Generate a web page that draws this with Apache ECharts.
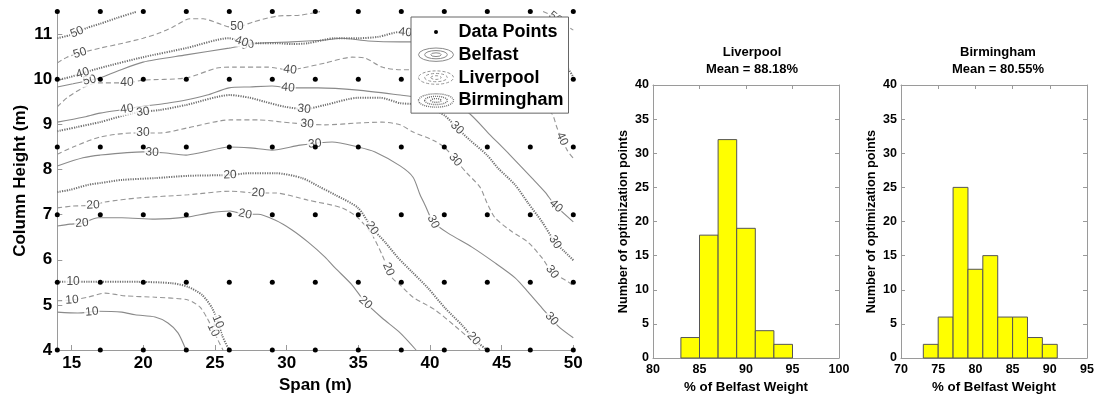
<!DOCTYPE html>
<html>
<head>
<meta charset="utf-8">
<script src="https://cdn.jsdelivr.net/npm/echarts@6/dist/echarts.min.js"></script>
<style>
html, body { margin: 0; padding: 0; background: #fff; }
#chart { width: 1094px; height: 400px; }
</style>
</head>
<body>
<div id="chart"></div>
<script>
// ---- Optimisation sampling grid (span m, column height m) ----
const spanValues = [14, 17, 20, 23, 26, 29, 32, 35, 38, 41, 44, 47, 50];
const heightValues = [4, 5.5, 7, 8.5, 10, 11.5];

const spanTicks = [15, 20, 25, 30, 35, 40, 45, 50];
const heightTicks = [4, 5, 6, 7, 8, 9, 10, 11];

// ---- Contour lines of % weight, as [span, column height] ----
const belfast10 = [[14,4.84],[15.44,4.82],[16.84,4.86],[18.51,4.84],[19.42,4.78],[20.82,4.73],[21.72,4.60],[22.42,4.38],[22.98,4.0]];
const belfast20 = [[14,6.75],[14.89,6.79],[15.72,6.81],[16.84,6.93],[18.51,6.93],[20.82,6.90],[23.12,6.95],[24.65,7.04],[26.05,7.08],[27.10,7.01],[28.01,7.01],[29.19,6.88],[30.38,6.66],[31.50,6.39],[32.68,6.06],[33.38,5.82],[34.57,5.44],[35.47,5.06],[36.66,4.71],[37.92,4.38],[39.03,4.0]];
const belfast30 = [[14,8.08],[15.79,8.26],[16.98,8.32],[19.98,8.39],[21.37,8.37],[22.98,8.32],[23.96,8.37],[25.98,8.50],[27.44,8.48],[28.98,8.43],[30.94,8.54],[33.17,8.61],[34.98,8.50],[36.17,8.39],[37.92,8.08],[38.82,7.83],[39.31,7.44],[39.66,7.21],[40.22,6.84],[41.26,6.59],[42.93,6.28],[44.54,5.93],[45.94,5.60],[46.84,5.29],[47.82,4.93],[48.94,4.53],[50,4.27]];
const belfast40 = [[14,9.05],[15.79,9.16],[16.98,9.25],[18.86,9.34],[19.77,9.39],[21.65,9.47],[22.98,9.54],[24.45,9.65],[25.98,9.81],[27.44,9.83],[28.98,9.85],[30.24,9.81],[32.19,9.81],[34.98,9.76],[37.92,9.65],[39.31,9.59],[41.40,9.45],[42.65,9.27],[44.19,8.77],[45.59,8.32],[47.12,7.81],[48.03,7.50],[48.73,7.21],[50,6.84]];
const belfast50 = [[14,9.83],[15.10,9.90],[16.98,10.03],[18.17,10.18],[19.98,10.38],[22.98,10.54],[25.98,10.69],[28.01,10.80],[30.38,10.83],[32.68,10.87],[33.87,10.91],[35.68,10.85],[37.92,10.83],[38.75,10.83],[43.49,10.83],[47.68,10.80]];

const liverpool10 = [[14,5.09],[15.03,5.11],[16.14,5.17],[17.33,5.26],[18.72,5.20],[20.82,5.17],[23.12,5.11],[23.96,4.95],[24.45,4.71],[24.80,4.49],[25.21,4.22],[25.56,4.0]];
const liverpool20 = [[14,7.15],[15.10,7.19],[16.49,7.21],[17.33,7.28],[19.63,7.37],[23.12,7.44],[26.05,7.52],[28.01,7.48],[29.19,7.48],[31.50,7.32],[33.87,7.15],[34.98,6.93],[35.96,6.55],[36.66,6.11],[37.36,5.60],[37.92,5.44],[38.82,5.17],[40.35,4.89],[41.75,4.53],[43.0,4.18],[43.49,4.0]];
const liverpool30 = [[14,8.34],[15.10,8.50],[16.98,8.72],[19.28,8.81],[21.17,8.81],[23.05,8.92],[26.05,9.10],[28.01,9.10],[30.38,9.03],[32.68,8.99],[34.98,9.03],[36.66,9.05],[37.92,8.99],[38.82,8.83],[40.22,8.65],[41.05,8.48],[41.89,8.17],[42.58,7.92],[43.49,7.61],[43.98,7.26],[44.54,6.93],[45.73,6.62],[46.84,6.39],[47.82,6.04],[48.52,5.73],[49.64,5.51],[50,5.42]];
const liverpool40 = [[14,9.39],[14.68,9.59],[15.79,9.81],[16.77,9.92],[18.86,9.92],[19.98,9.98],[22.98,10.03],[25.14,10.25],[26.26,10.27],[28.63,10.27],[30.24,10.21],[31.08,10.25],[32.68,10.36],[34.57,10.49],[35.47,10.47],[36.66,10.27],[37.92,10.21],[38.75,10.21],[43.49,9.87],[47.68,9.43],[48.52,9.23],[48.87,8.92],[49.57,8.43],[50,8.25]];
const liverpool50 = [[14,10.36],[14.68,10.49],[15.58,10.58],[16.98,10.69],[18.58,10.80],[19.98,10.91],[21.17,11.03],[22.07,11.16],[23.26,11.34],[24.17,11.34],[25.14,11.25],[26.05,11.16],[26.54,11.16],[27.65,11.27],[29.33,11.40],[30.94,11.42],[32.33,11.5]];
const liverpool50East = [[47.89,11.5],[48.59,11.40],[49.29,11.23],[50,11.09]];

const birmingham10 = [[14,5.51],[16.14,5.51],[19.63,5.51],[22.0,5.48],[23.12,5.40],[24.10,5.22],[24.80,4.93],[25.21,4.62],[25.49,4.33],[25.98,4.0]];
const birmingham20 = [[14,7.50],[14.89,7.55],[16.14,7.66],[16.98,7.70],[18.51,7.77],[20.82,7.81],[23.12,7.86],[26.05,7.88],[27.44,7.92],[29.19,7.92],[31.08,7.81],[32.33,7.61],[33.38,7.44],[34.98,7.15],[35.96,6.70],[36.87,6.39],[37.78,6.04],[38.75,5.73],[39.87,5.37],[41.05,4.93],[42.24,4.55],[43.14,4.22],[43.98,4.0]];
const birmingham30 = [[14,8.85],[15.37,8.94],[16.98,9.05],[19.28,9.25],[21.17,9.32],[22.98,9.43],[26.05,9.65],[27.44,9.59],[28.49,9.50],[29.89,9.39],[31.22,9.34],[32.68,9.43],[34.98,9.59],[36.52,9.59],[37.92,9.47],[38.82,9.45],[40.01,9.36],[41.05,9.19],[41.89,8.92],[42.79,8.65],[43.98,8.32],[44.75,8.03],[45.94,7.66],[46.84,7.26],[47.82,6.84],[48.73,6.39],[49.43,6.17],[50,5.99]];
const birmingham40 = [[14,9.98],[14.89,10.05],[15.79,10.14],[16.98,10.25],[19.98,10.49],[22.98,10.69],[25.98,10.91],[26.89,10.83],[28.01,10.80],[29.33,10.80],[30.38,10.78],[31.50,10.80],[33.38,10.91],[34.98,10.91],[36.38,10.94],[37.92,11.05],[38.61,11.03],[43.49,10.98],[47.68,10.65],[49.57,10.25],[50,10.05]];
const birmingham50 = [[14,10.91],[14.89,10.98],[16.07,11.14],[16.98,11.23],[18.17,11.36],[19.56,11.5]];

// ---- Inline contour label anchors [span, column height] ----
const belfast10Labels = [[16.42,4.82]];
const belfast20Labels = [[15.72,6.80],[27.10,7.00],[35.47,5.04]];
const belfast30Labels = [[20.61,8.37],[31.98,8.54],[40.22,6.84],[48.38,4.66]];
const belfast40Labels = [[18.86,9.34],[30.10,9.81],[48.73,7.17]];
const belfast50Labels = [[16.28,9.94],[27.31,10.69]];
const liverpool10Labels = [[15.03,5.11],[24.87,4.44]];
const liverpool20Labels = [[16.49,7.21],[28.01,7.48],[36.66,5.73]];
const liverpool30Labels = [[19.98,8.80],[31.43,9.01],[41.75,8.21],[48.52,5.73]];
const liverpool40Labels = [[18.86,9.92],[30.24,10.21],[49.01,8.65]];
const liverpool50Labels = [[15.58,10.58],[26.54,11.16],[48.80,11.38]];
const birmingham10Labels = [[15.10,5.51],[25.14,4.62]];
const birmingham20Labels = [[26.05,7.88],[35.96,6.70],[42.93,4.22]];
const birmingham30Labels = [[19.98,9.25],[31.22,9.34],[41.89,8.92],[48.73,6.39]];
const birmingham40Labels = [[15.79,10.12],[26.89,10.87],[38.27,11.03]];
const birmingham50Labels = [[15.37,11.05]];

// ---- Histograms: bin edges (% of Belfast weight) and counts ----
const liverpoolBinEdges = [83, 85, 87, 89, 91, 93, 95];
const liverpoolCounts = [3, 18, 32, 19, 4, 2];
const birminghamBinEdges = [73, 75, 77, 79, 81, 83, 85, 87, 89, 91];
const birminghamCounts = [2, 6, 25, 13, 15, 6, 6, 3, 2];
const liverpoolMean = '88.18%';
const birminghamMean = '80.55%';

// ---------------------------------------------------------------
const FONT = '"Liberation Sans", Arial, Helvetica, sans-serif';

const cityStyle = {
  Belfast:    { color: '#8a8a8a', width: 1.1, type: 'solid' },
  Liverpool:  { color: '#969696', width: 1.1, type: [5, 3] },
  Birmingham: { color: '#707070', width: 2, type: [1.2, 1.2] }
};

const contours = [
  { city: 'Belfast', level: 10, line: belfast10, labels: belfast10Labels },
  { city: 'Belfast', level: 20, line: belfast20, labels: belfast20Labels },
  { city: 'Belfast', level: 30, line: belfast30, labels: belfast30Labels },
  { city: 'Belfast', level: 40, line: belfast40, labels: belfast40Labels },
  { city: 'Belfast', level: 50, line: belfast50, labels: belfast50Labels },
  { city: 'Liverpool', level: 10, line: liverpool10, labels: liverpool10Labels },
  { city: 'Liverpool', level: 20, line: liverpool20, labels: liverpool20Labels },
  { city: 'Liverpool', level: 30, line: liverpool30, labels: liverpool30Labels },
  { city: 'Liverpool', level: 40, line: liverpool40, labels: liverpool40Labels },
  { city: 'Liverpool', level: 50, line: liverpool50, labels: liverpool50Labels.slice(0, 2) },
  { city: 'Liverpool', level: 50, line: liverpool50East, labels: liverpool50Labels.slice(2) },
  { city: 'Birmingham', level: 10, line: birmingham10, labels: birmingham10Labels },
  { city: 'Birmingham', level: 20, line: birmingham20, labels: birmingham20Labels },
  { city: 'Birmingham', level: 30, line: birmingham30, labels: birmingham30Labels },
  { city: 'Birmingham', level: 40, line: birmingham40, labels: birmingham40Labels },
  { city: 'Birmingham', level: 50, line: birmingham50, labels: birmingham50Labels }
];

const dataPoints = [];
heightValues.forEach(h => spanValues.forEach(s => dataPoints.push([s, h])));

function binData(edges, counts) {
  return counts.map((c, i) => [edges[i], edges[i + 1], c]);
}

// Legend glyphs: a centred dot and three nested ellipses
const dotIcon = 'path://M0,0 M35,14 M15.5,7 A2,2 0 1,0 19.5,7 A2,2 0 1,0 15.5,7 Z';
const ellipseIcon = 'path://M0.5,7 A17,6.5 0 1,0 34.5,7 A17,6.5 0 1,0 0.5,7 Z ' +
  'M6.5,7 A11,4 0 1,0 28.5,7 A11,4 0 1,0 6.5,7 Z ' +
  'M12.5,7 A5,1.8 0 1,0 22.5,7 A5,1.8 0 1,0 12.5,7 Z';

const tickLabelBig = { fontSize: 17, fontWeight: 'bold', color: '#000', fontFamily: FONT };
const tickLabelSmall = { fontSize: 12.5, fontWeight: 'bold', color: '#000', fontFamily: FONT };
const greyLine = { color: '#9a9a9a', width: 1 };

function histAxes(gridIndex, min, max) {
  const common = {
    type: 'value', gridIndex, min, max, interval: 5,
    splitLine: { show: false },
    axisLine: { show: true, onZero: false, lineStyle: greyLine },
    axisTick: { show: true, inside: true, length: 4, lineStyle: greyLine }
  };
  const yCommon = {
    type: 'value', gridIndex, min: 0, max: 40, interval: 5,
    splitLine: { show: false },
    axisLine: { show: true, onZero: false, lineStyle: greyLine },
    axisTick: { show: true, inside: true, length: 4, lineStyle: greyLine }
  };
  return {
    x: [
      Object.assign({}, common, {
        position: 'bottom',
        axisLabel: Object.assign({ margin: 5 }, tickLabelSmall),
        name: '% of Belfast Weight', nameLocation: 'middle', nameGap: 18,
        nameTextStyle: { fontSize: 13.3, fontWeight: 'bold', color: '#000', fontFamily: FONT }
      }),
      Object.assign({}, common, { position: 'top', axisLabel: { show: false } })
    ],
    y: [
      Object.assign({}, yCommon, {
        position: 'left',
        axisLabel: Object.assign({ margin: 4 }, tickLabelSmall),
        name: 'Number of optimization points', nameLocation: 'middle', nameGap: 23,
        nameTextStyle: { fontSize: 12.7, fontWeight: 'bold', color: '#000', fontFamily: FONT }
      }),
      Object.assign({}, yCommon, { position: 'right', axisLabel: { show: false } })
    ]
  };
}

const liverpoolAxes = histAxes(1, 80, 100);
const birminghamAxes = histAxes(2, 70, 95);

function histSeries(name, xIdx, yIdx, data) {
  return {
    type: 'custom', name, xAxisIndex: xIdx, yAxisIndex: yIdx,
    encode: { x: [0, 1], y: 2 },
    data,
    renderItem: (params, api) => {
      const p0 = api.coord([api.value(0), 0]);
      const p1 = api.coord([api.value(1), api.value(2)]);
      return {
        type: 'rect',
        shape: { x: p0[0], y: p1[1], width: p1[0] - p0[0], height: p0[1] - p1[1] },
        style: { fill: '#ffff00', stroke: '#555', lineWidth: 1 }
      };
    }
  };
}

const contourSeries = contours.map(c => ({
  type: 'line', name: c.city, xAxisIndex: 0, yAxisIndex: 0,
  data: c.line, showSymbol: false, symbol: 'none', smooth: 0.25,
  lineStyle: cityStyle[c.city], z: 2, silent: true, clip: true
}));

const labelStyle = {
  show: true, position: 'inside', fontSize: 12, color: '#222', fontFamily: FONT,
  backgroundColor: '#fff', padding: [0, 1],
  formatter: p => String(p.value[2])
};

function labelData(rotated) {
  const out = [];
  contours.forEach(c => c.labels.forEach(pt => {
    if (rotated) {
      const r = placeOnLine(c.line, pt);
      out.push({ value: [r.pos[0], r.pos[1], c.level], label: { rotate: r.angle } });
    } else {
      out.push({ value: [pt[0], pt[1], c.level] });
    }
  }));
  return out;
}

const option = {
  animation: false,
  backgroundColor: '#fff',
  textStyle: { fontFamily: FONT },
  title: [
    { text: 'Liverpool\nMean = ' + liverpoolMean, left: 747, top: 39, textAlign: 'center',
      textStyle: { fontSize: 13, fontWeight: 'bold', color: '#000', lineHeight: 17, fontFamily: FONT } },
    { text: 'Birmingham\nMean = ' + birminghamMean, left: 993, top: 39, textAlign: 'center',
      textStyle: { fontSize: 13, fontWeight: 'bold', color: '#000', lineHeight: 17, fontFamily: FONT } }
  ],
  legend: {
    orient: 'vertical', left: 411, top: 17,
    padding: [6, 5, 3.5, 5], itemGap: 4.5, itemWidth: 35, itemHeight: 14,
    backgroundColor: '#fff', borderColor: '#666', borderWidth: 1, borderRadius: 0, z: 10,
    textStyle: { fontSize: 18, fontWeight: 'bold', color: '#000', fontFamily: FONT },
    data: [
      { name: 'Data Points', icon: dotIcon, itemStyle: { color: '#000', borderWidth: 0 } },
      { name: 'Belfast', icon: ellipseIcon, itemStyle: { color: 'none', borderColor: cityStyle.Belfast.color, borderWidth: 1, borderType: 'solid' } },
      { name: 'Liverpool', icon: ellipseIcon, itemStyle: { color: 'none', borderColor: cityStyle.Liverpool.color, borderWidth: 1, borderType: [3, 2] } },
      { name: 'Birmingham', icon: ellipseIcon, itemStyle: { color: 'none', borderColor: cityStyle.Birmingham.color, borderWidth: 1.4, borderType: [1, 1] } }
    ]
  },
  grid: [
    { left: 57.3, top: 11.6, width: 516, height: 338.4, outerBoundsMode: 'none', containLabel: false },
    { left: 653, top: 85, width: 186, height: 273, outerBoundsMode: 'none', containLabel: false },
    { left: 901, top: 85, width: 186, height: 273, outerBoundsMode: 'none', containLabel: false }
  ],
  xAxis: [
    {
      type: 'value', gridIndex: 0, min: 14, max: 50,
      splitLine: { show: false },
      axisLine: { show: true, onZero: false, lineStyle: greyLine },
      axisTick: { show: true, inside: true, length: 5, customValues: spanTicks, lineStyle: greyLine },
      axisLabel: Object.assign({ customValues: spanTicks, margin: 5 }, tickLabelBig),
      name: 'Span (m)', nameLocation: 'middle', nameGap: 25,
      nameTextStyle: { fontSize: 17, fontWeight: 'bold', color: '#000', fontFamily: FONT }
    },
    liverpoolAxes.x[0], liverpoolAxes.x[1],
    birminghamAxes.x[0], birminghamAxes.x[1]
  ],
  yAxis: [
    {
      type: 'value', gridIndex: 0, min: 4, max: 11.5,
      splitLine: { show: false },
      axisLine: { show: true, onZero: false, lineStyle: greyLine },
      axisTick: { show: true, inside: true, length: 5, customValues: heightTicks, lineStyle: greyLine },
      axisLabel: Object.assign({ customValues: heightTicks, margin: 5 }, tickLabelBig),
      name: 'Column Height (m)', nameLocation: 'middle', nameGap: 28,
      nameTextStyle: { fontSize: 17, fontWeight: 'bold', color: '#000', fontFamily: FONT }
    },
    liverpoolAxes.y[0], liverpoolAxes.y[1],
    birminghamAxes.y[0], birminghamAxes.y[1]
  ],
  series: contourSeries.concat([
    {
      id: 'contourLabels', type: 'scatter', name: 'contour labels',
      xAxisIndex: 0, yAxisIndex: 0, symbolSize: 0, z: 3, silent: true,
      data: labelData(false), label: labelStyle
    },
    {
      type: 'scatter', name: 'Data Points', xAxisIndex: 0, yAxisIndex: 0,
      data: dataPoints, symbolSize: 5, itemStyle: { color: '#000', opacity: 1 }, z: 4, clip: false, silent: true
    },
    histSeries('Liverpool histogram', 1, 1, binData(liverpoolBinEdges, liverpoolCounts)),
    histSeries('Birmingham histogram', 3, 3, binData(birminghamBinEdges, birminghamCounts))
  ])
};

const chart = echarts.init(document.getElementById('chart'), null, { renderer: 'canvas' });
chart.setOption(option);

// Snap each label onto its contour and turn it to follow the local line direction
function placeOnLine(line, pt) {
  const toPx = p => chart.convertToPixel({ gridIndex: 0 }, p);
  const px = line.map(toPx);
  const q = toPx(pt);
  let best = Infinity, angle = 0, proj = q;
  for (let i = 0; i < px.length - 1; i++) {
    const a = px[i], b = px[i + 1];
    const dx = b[0] - a[0], dy = b[1] - a[1];
    const len2 = dx * dx + dy * dy || 1;
    let t = ((q[0] - a[0]) * dx + (q[1] - a[1]) * dy) / len2;
    t = Math.max(0, Math.min(1, t));
    const cx = a[0] + t * dx, cy = a[1] + t * dy;
    const d = (cx - q[0]) ** 2 + (cy - q[1]) ** 2;
    if (d < best) { best = d; angle = -Math.atan2(dy, dx) * 180 / Math.PI; proj = [cx, cy]; }
  }
  if (angle > 90) angle -= 180;
  if (angle < -90) angle += 180;
  return { pos: chart.convertFromPixel({ gridIndex: 0 }, proj), angle };
}

chart.setOption({ series: [{ id: 'contourLabels', data: labelData(true) }] });
</script>
</body>
</html>
